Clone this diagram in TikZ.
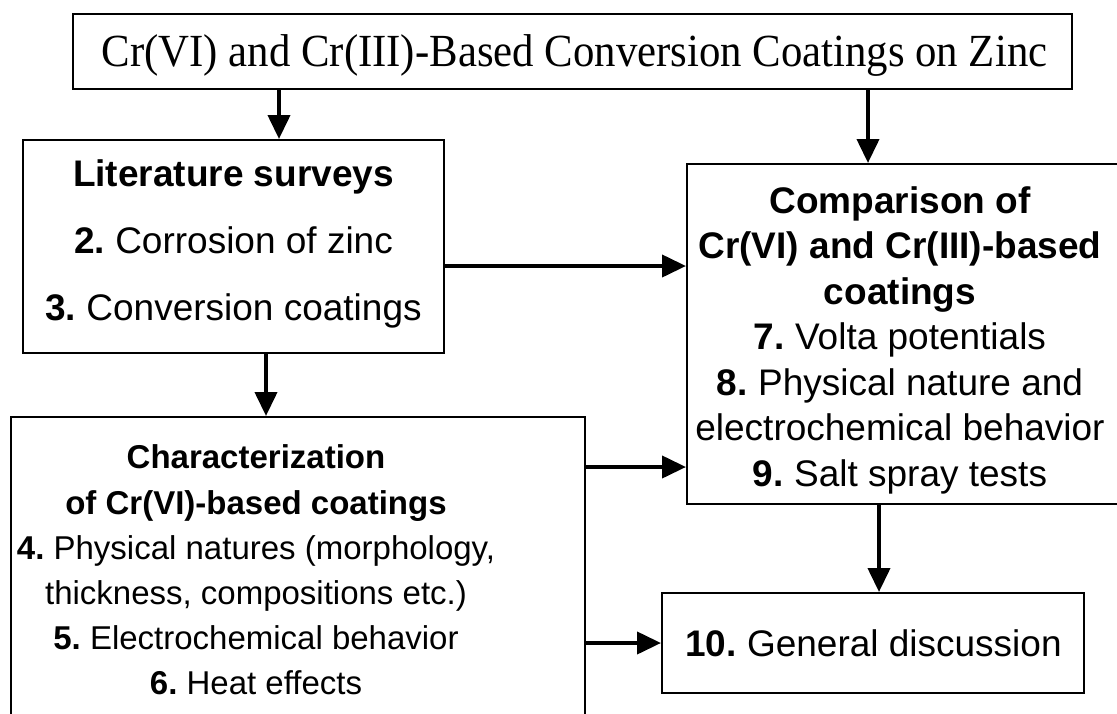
\documentclass[tikz,border=0pt]{standalone}
\usepackage{graphicx}
\usepackage{fontspec}
\setmainfont{Liberation Sans}
\newfontfamily\titlefont{Liberation Serif}
\usetikzlibrary{arrows.meta}
\frenchspacing
\begin{document}
\begin{tikzpicture}[x=1pt,y=-1pt,
  box/.style={draw, line width=2pt, inner sep=0pt},
  txt/.style={inner sep=0pt, align=center},
  arr/.style={line width=4pt, -{Triangle[length=24pt,width=22pt]}}]
\clip (0,0) rectangle (1117,713);
% boxes
\node[box, minimum width=999pt, minimum height=75pt] (top) at (572.5,51.5) {};
\node[box, minimum width=421pt, minimum height=213pt] (lit) at (233.5,246.5) {};
\node[box, minimum width=443pt, minimum height=340pt] (comp) at (908.5,334) {};
\node[box, minimum width=574pt, minimum height=363pt] (char) at (298,598.5) {};
\node[box, minimum width=422pt, minimum height=100pt] (gen) at (873,643) {};
% texts
\node[txt, font=\titlefont\fontsize{46}{52}\selectfont] (toptxt) at (574.5,56)
  {\scalebox{0.93}[1]{Cr(VI) and Cr(III)-Based Conversion Coatings on Zinc}};
\node[txt, font=\fontsize{37}{67}\selectfont] (littxt) at (233.5,244)
  {{\bfseries Literature surveys}\\{\bfseries 2.} Corrosion of zinc\\{\bfseries 3.} Conversion coatings};
\node[txt, font=\fontsize{37}{45.5}\selectfont] (comptxt) at (900,340)
  {{\bfseries Comparison of}\\{\bfseries Cr(VI) and Cr(III)-based}\\{\bfseries coatings}\\{\bfseries 7.} Volta potentials\\{\bfseries 8.} Physical nature and\\electrochemical behavior\\{\bfseries 9.} Salt spray tests};
\node[txt, font=\fontsize{33}{45.2}\selectfont] (chartxt) at (256,570)
  {{\bfseries Characterization}\\{\bfseries of Cr(VI)-based coatings}\\{\bfseries 4.} Physical natures (morphology,\\thickness, compositions etc.)\\{\bfseries 5.} Electrochemical behavior\\{\bfseries 6.} Heat effects};
\node[txt, font=\fontsize{37}{45}\selectfont] (gentxt) at (873.5,643)
  {{\bfseries 10.} General discussion};
% helper coordinates
\coordinate (xa) at (279,0);
\coordinate (xb) at (868,0);
\coordinate (xc) at (266,0);
\coordinate (xd) at (879,0);
\coordinate (ya) at (0,266);
\coordinate (yb) at (0,467);
% connectors
\draw[arr] (top.south -| xa) -- (lit.north -| xa);
\draw[arr] (top.south -| xb) -- (comp.north -| xb);
\draw[arr] (lit.east |- ya) -- (comp.west |- ya);
\draw[arr] (lit.south -| xc) -- (char.north -| xc);
\draw[arr] (char.east |- yb) -- (comp.west |- yb);
\draw[arr] (char.east |- gen.west) -- (gen.west);
\draw[arr] (comp.south -| xd) -- (gen.north -| xd);
\end{tikzpicture}
\end{document}
